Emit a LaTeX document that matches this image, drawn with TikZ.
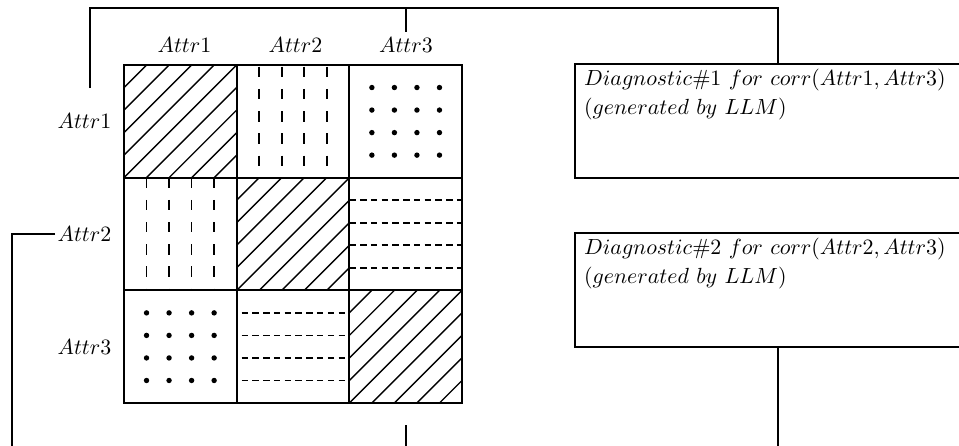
\documentclass[tikz,border=0pt]{standalone}
\usetikzlibrary{calc}
\newcommand\cellsz{112.67}
% diagonal "/" hatching inside a cell node
\newcommand\hatchcell[1]{%
  \begin{scope}
    \clip (#1.north west) rectangle (#1.south east);
    \foreach \k in {-4,...,4}
      \draw[hatch] ($(#1.south west)+(\k*\cellsz/5,0)$) -- ++(\cellsz,-\cellsz);
  \end{scope}}
% four vertical dashed lines; #2 = offset of the first dash from the top
\newcommand\vdashcell[2]{%
  \foreach \k in {1,...,4}
    \draw[vdash] ($(#1.north west)+(\k*\cellsz/5,#2)$) -- ($(#1.south west)+(\k*\cellsz/5,0)$);}
% four horizontal dashed lines; #2 = offset of the first dash from the left
\newcommand\hdashcell[2]{%
  \foreach \k in {1,...,4}
    \draw[hdash] ($(#1.north west)+(#2,\k*\cellsz/5)$) -- ($(#1.north east)+(0,\k*\cellsz/5)$);}
% 4 x 4 grid of dots
\newcommand\dotcell[1]{%
  \foreach \i in {1,...,4}
    \foreach \j in {1,...,4}
      \fill ($(#1.north west)+(\i*\cellsz/5,\j*\cellsz/5)$) circle (1.35pt);}
\begin{document}
\begin{tikzpicture}[x=0.5pt, y=-0.5pt,
  lbl/.style={font=\fontsize{11.3}{14}\selectfont, inner sep=3pt},
  rowlbl/.style={lbl, anchor=east, inner xsep=1pt},
  cellbox/.style={draw, line width=1.1pt, minimum width=56.335pt, minimum height=56.335pt,
    inner sep=0pt, outer sep=0pt, anchor=north west},
  hatch/.style={line width=0.7pt},
  vdash/.style={line width=0.8pt, dash pattern=on 5.2pt off 5.9pt},
  hdash/.style={line width=0.8pt, dash pattern=on 3.2pt off 2.18pt},
  link/.style={line width=0.9pt},
  diag/.style={draw, line width=1.1pt, font=\fontsize{11.3}{14.5}\selectfont,
    inner xsep=4.5pt, inner ysep=2.5pt}]
\useasboundingbox (0,0) rectangle (959,445);
\clip (0,0) rectangle (959,445);

% correlation matrix cells
\foreach \r in {1,2,3}
  \foreach \c in {1,2,3}
    \node[cellbox] (m\r\c) at ({124+(\c-1)*\cellsz},{65+(\r-1)*\cellsz}) {};

\hatchcell{m11}
\hatchcell{m22}
\hatchcell{m33}
\vdashcell{m12}{1.7}
\vdashcell{m21}{0}
\hdashcell{m23}{0}
\hdashcell{m32}{5}
\dotcell{m13}
\dotcell{m31}

% redraw the cell borders on top of the patterns
\foreach \r in {1,2,3}
  \foreach \c in {1,2,3}
    \draw[line width=1.1pt] (m\r\c.north west) rectangle (m\r\c.south east);

% column and row headers
\node[lbl] (ca1) at (184.5,45.5) {$Attr1$};
\node[lbl] (ca2) at (295.5,45.5) {$Attr2$};
\node[lbl] (ca3) at (406,45.5) {$Attr3$};
\node[rowlbl] (ra1) at (113.7,121.3) {$Attr1$};
\node[rowlbl] (ra2) at (113.7,234) {$Attr2$};
\node[rowlbl] (ra3) at (113.7,346.7) {$Attr3$};

% diagnostic boxes
\node[diag] (dg1) at (777.7,121) {\parbox[c][52pt][t]{193.5pt}{%
  $Diagnostic\#1\ for\ corr(Attr1,Attr3)$\\
  $(generated\ by\ LLM)$}};
\node[diag] (dg2) at (777.7,290) {\parbox[c][52pt][t]{193.5pt}{%
  $Diagnostic\#2\ for\ corr(Attr2,Attr3)$\\
  $(generated\ by\ LLM)$}};

% connectors
\coordinate (a1) at (90,88);
\coordinate (tp) at (90,8.3);
\coordinate (a3) at (405.7,425);
\coordinate (bt) at (12,452);
\draw[link] (a1) -- (tp) -| (dg1.north);
\draw[link] (ca3.north) -- (ca3.north |- tp);
\draw[link] (ra2.west) -| (bt) -| (dg2.south);
\draw[link] (a3) -- (a3 |- bt);
\end{tikzpicture}
\end{document}
